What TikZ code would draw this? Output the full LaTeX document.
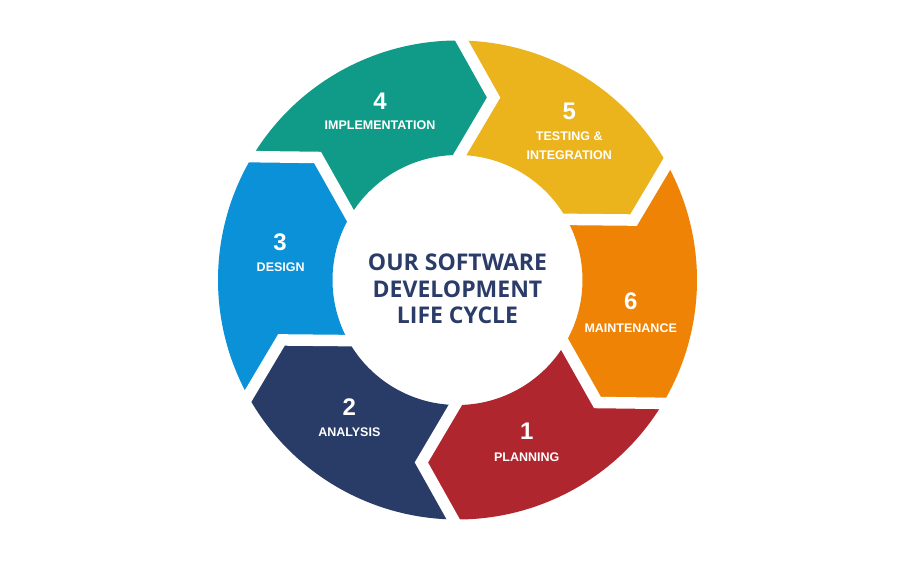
\documentclass[tikz,border=0pt]{standalone}
\usepackage{fontspec}
\setmainfont{Liberation Sans}
\newfontfamily\ctrfont{Open Sans}
\usetikzlibrary{calc}
\definecolor{cteal}{HTML}{0F9B87}
\definecolor{cyellow}{HTML}{EBB31C}
\definecolor{corange}{HTML}{EE8306}
\definecolor{cred}{HTML}{AF262E}
\definecolor{cnavy}{HTML}{283C67}
\definecolor{cblue}{HTML}{0A91D7}
\definecolor{ctext}{HTML}{2B3C68}
\tikzset{
  gapline/.style={white, line width=11.5pt, line join=miter, line cap=butt},
  numtext/.style={text=white, font=\bfseries\fontsize{24}{24}\selectfont, inner sep=0pt},
  lbltext/.style={text=white, font=\bfseries\fontsize{12.5}{14}\selectfont, inner sep=0pt},
  titletext/.style={text=ctext, font=\ctrfont\bfseries\fontsize{23}{26.5}\selectfont, align=center, inner sep=0pt}
}
\begin{document}
\begin{tikzpicture}[x=1pt,y=1pt]
\useasboundingbox (0,0) rectangle (900,560);
\fill[white] (0,0) rectangle (900,560);
\begin{scope}[shift={(457.5,280)}]
\def\Ro{239.5pt}\def\Ri{125pt}\def\Rt{186pt}\def\off{10.2}
\foreach \a/\col in {149/cteal, 89/cyellow, 29/corange, -31/cred, -91/cnavy, -151/cblue}{
  \pgfmathsetmacro\b{\a-60}
  \pgfmathsetmacro\ta{\a-\off}
  \pgfmathsetmacro\tb{\b-\off}
  \fill[\col] (\a:\Ro) arc[start angle=\a, delta angle=-60, radius=\Ro]
     -- (\tb:\Rt) -- (\b:\Ri) arc[start angle=\b, delta angle=60, radius=\Ri]
     -- (\ta:\Rt) -- cycle;
}
\foreach \a in {149,89,29,-31,-91,-151}{
  \pgfmathsetmacro\ta{\a-\off}
  \coordinate (go) at (\a:\Ro);
  \coordinate (gt) at (\ta:\Rt);
  \coordinate (gi) at (\a:\Ri);
  \draw[gapline] ($(gt)!1.25!(go)$) -- (gt) -- ($(gt)!1.4!(gi)$);
}
\end{scope}
\node[titletext] (title) at (457.5,271) {OUR SOFTWARE\\DEVELOPMENT\\LIFE CYCLE};
\node[numtext] (n4) at (380,458.3) {4};
\node[lbltext] (l4) at (380,434.3) {IMPLEMENTATION};
\node[numtext] (n5) at (569.3,448.3) {5};
\node[lbltext] (l5a) at (569.3,424) {TESTING \&};
\node[lbltext] (l5b) at (569.3,404.3) {INTEGRATION};
\node[numtext] (n3) at (280,317.3) {3};
\node[lbltext] (l3) at (280.7,292.7) {DESIGN};
\node[numtext] (n6) at (630.7,258.3) {6};
\node[lbltext] (l6) at (630.7,231.7) {MAINTENANCE};
\node[numtext] (n2) at (349.3,153.3) {2};
\node[lbltext] (l2) at (349.3,128.3) {ANALYSIS};
\node[numtext] (n1) at (526.7,128.3) {1};
\node[lbltext] (l1) at (526.7,102.7) {PLANNING};
\end{tikzpicture}
\end{document}
